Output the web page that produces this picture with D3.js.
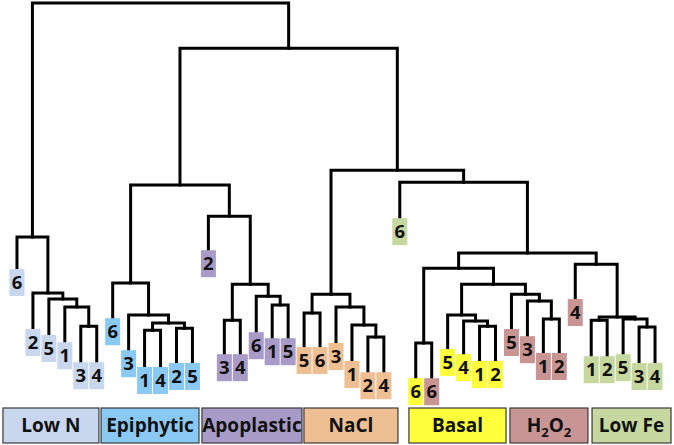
<!DOCTYPE html>
<html>
<head>
<meta charset="utf-8">
<script src="https://cdn.jsdelivr.net/npm/d3@7"></script>
<style>
  html, body { margin: 0; padding: 0; background: #fff; }
  svg { display: block; }
  .link { fill: none; stroke: #000; stroke-width: 3; stroke-linejoin: miter; stroke-linecap: square; }
  .leaf-txt, .band-txt { font-family: "Open Sans", Lato, sans-serif; font-weight: 700; fill: #111; }
</style>
</head>
<body>
<div id="chart"></div>
<script>
// groups and their colours
const groups      = ['Low N', 'Epiphytic', 'Apoplastic', 'NaCl', 'Basal', 'H2O2', 'Low Fe'];
const groupColors = ['#c8d6ee', '#8bc9f5', '#a99bc7', '#efbf94', '#ffff3c', '#c89494', '#c7d7a0'];

// leaves, left to right
const leafLabels = ['6','2','5','1','3','4',  '6','3','1','4','2','5',  '2','3','4','6','1','5',
                    '5','6','3','1','2','4',  '6','6','6','5','4','1','2',  '5','3','1','2','4',
                    '1','2','5','3','4'];
const leafGroup  = [0,0,0,0,0,0,  1,1,1,1,1,1,  2,2,2,2,2,2,  3,3,3,3,3,3,
                    6,4,5,4,4,4,4,  5,5,5,5,5,  6,6,6,6,6];
// distance from root of each leaf tip
const leafDepth  = [66.5,81.5,83,84.8,89.8,89.8,  78.8,86.8,91,91,90,90,
                    61.8,87.8,87.8,82.3,83.8,83.8,  86,86,85,89.5,92.3,92.3,
                    53.8,93.8,93.8,86.5,87.8,89.5,89.5,  81.5,83.3,87.5,87.5,74,
                    88.3,88.3,87.8,90,90];

// merges: [left, right, depth]; ids >= 41 refer to earlier merges (41 + row)
const merges = [
  [4,5,80.8],[3,41,76],[2,42,74],[1,43,72.5],[0,44,58.5],
  [8,9,81.8],[10,11,81.3],[46,47,80],[7,48,78],[6,49,70],
  [13,14,79.3],[16,17,75.5],[15,52,73.3],[51,53,70.3],[12,54,53.3],
  [50,55,45.5],
  [18,19,77.5],[22,23,83.5],[21,58,80.5],[20,59,76],[57,60,72.8],
  [25,26,85],[29,30,80.8],[28,63,79.5],[27,64,78],[33,34,79],[32,66,74.5],[31,67,72.8],
  [65,68,70.3],[62,69,66.3],
  [36,37,79.3],[39,40,81],[38,72,79],[71,73,78.5],[35,74,65.3],
  [70,75,62.5],[24,76,44.8],[61,77,41.8],[56,78,11.3],[45,79,0]
];

const W = 674, H = 445;
const nLeaf = leafLabels.length;

// build nested tree from the merge table
const nodes = leafLabels.map((l, i) => ({ id: i, depth: leafDepth[i] }));
merges.forEach(([a, b, d], k) => {
  nodes.push({ id: nLeaf + k, depth: d, children: [nodes[a], nodes[b]] });
});
const root = d3.hierarchy(nodes[nodes.length - 1]);

d3.cluster().size([1, 1]).separation(() => 1)(root);

const x = d3.scaleLinear().domain([0, 1]).range([9, 663]);
const y = d3.scaleLinear().domain([0, 100]).range([3, 403]);
const xi = d3.scaleLinear().domain([0, nLeaf - 1]).range([9, 663]); // leaf-index scale for bands

const svg = d3.select('#chart').append('svg')
  .attr('width', W).attr('height', H)
  .attr('viewBox', `0 0 ${W} ${H}`);

// elbow links
svg.append('g').selectAll('path')
  .data(root.descendants().filter(d => d.children))
  .join('path')
  .attr('class', 'link')
  .attr('d', d => {
    const [a, b] = d.children;
    return `M${x(a.x)},${y(a.data.depth)}V${y(d.data.depth)}H${x(b.x)}V${y(b.data.depth)}`;
  });

// leaf label boxes
const BW = 15, BH = 27;
const lg = svg.append('g').selectAll('g')
  .data(root.leaves())
  .join('g')
  .attr('transform', d => `translate(${x(d.x)},${y(d.data.depth)})`);

lg.append('rect')
  .attr('x', -BW / 2).attr('y', 0)
  .attr('width', BW).attr('height', BH)
  .attr('fill', d => groupColors[leafGroup[d.data.id]]);

lg.append('text')
  .attr('class', 'leaf-txt')
  .attr('text-anchor', 'middle')
  .attr('y', 20)
  .style('font-size', '18.5px')
  .text(d => leafLabels[d.data.id]);

// group bands along the bottom (edges in leaf-index units)
const bandEdges = [[-0.37, 5.5], [5.63, 11.62], [11.8, 17.92], [18.04, 23.79],
                   [24.46, 30.4], [30.64, 35.41], [35.66, 40.49]];
const bandY = 408, bandH = 35;

const bg = svg.append('g').selectAll('g')
  .data(groups)
  .join('g');

bg.append('rect')
  .attr('x', (g, i) => xi(bandEdges[i][0]))
  .attr('y', bandY)
  .attr('width', (g, i) => xi(bandEdges[i][1]) - xi(bandEdges[i][0]))
  .attr('height', bandH)
  .attr('fill', (g, i) => groupColors[i])
  .attr('stroke', '#3a3a3a')
  .attr('stroke-width', 1.2);

bg.append('text')
  .attr('class', 'band-txt')
  .attr('text-anchor', 'middle')
  .attr('x', (g, i) => (xi(bandEdges[i][0]) + xi(bandEdges[i][1])) / 2)
  .attr('y', bandY + 24)
  .style('font-size', '19px')
  .each(function(g) {
    const t = d3.select(this);
    if (g === 'H2O2') {
      t.append('tspan').text('H');
      t.append('tspan').attr('dy', 5).style('font-size', '13px').text('2');
      t.append('tspan').attr('dy', -5).text('O');
      t.append('tspan').attr('dy', 5).style('font-size', '13px').text('2');
    } else {
      t.text(g);
    }
  });
</script>
</body>
</html>
